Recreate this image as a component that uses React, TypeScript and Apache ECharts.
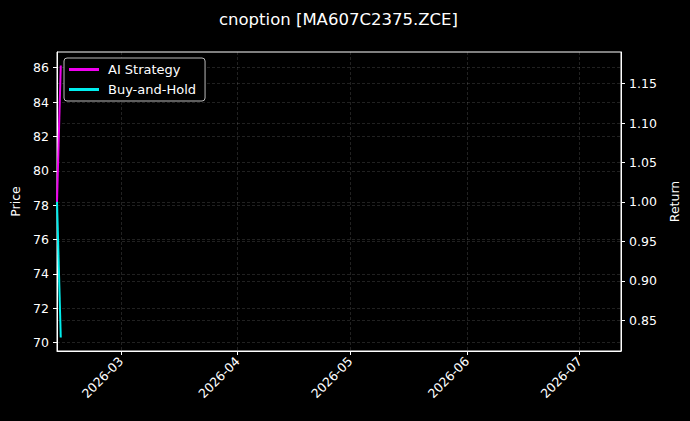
import { useEffect, useRef } from 'react'
import * as echarts from 'echarts'

const dates = ['2026-02-12', '2026-02-13']
const strategyReturn = [1.0, 1.173]
const buyHoldReturn = [1.0, 0.828]

const monthTicks = ['2026-03-01', '2026-04-01', '2026-05-01', '2026-06-01', '2026-07-01']
const priceTicks = [70, 72, 74, 76, 78, 80, 82, 84, 86]
const returnTicks = [0.85, 0.9, 0.95, 1.0, 1.05, 1.1, 1.15]

const xMin = Date.parse('2026-02-12')
const xMax = Date.parse('2026-07-12')

const toTs = (d: string) => Date.parse(d)

const font = 'DejaVu Sans, sans-serif'
const gridLine = { show: true, lineStyle: { color: 'rgba(255,255,255,0.22)', width: 0.6, type: [3, 2] as number[] } }

function App() {
  const chartRef = useRef<HTMLDivElement | null>(null)

  useEffect(() => {
    if (!chartRef.current) {
      return undefined
    }

    const chart = echarts.init(chartRef.current, undefined, { renderer: 'svg' })
    const option: echarts.EChartsOption = {
      animation: false,
      backgroundColor: '#000',
      textStyle: { fontFamily: font },
      title: {
        text: 'cnoption [MA607C2375.ZCE]',
        left: 214,
        top: 6,
        textStyle: { color: '#fff', fontSize: 16.5, fontWeight: 'normal', fontFamily: font },
      },
      grid: {
        left: 57,
        right: 69,
        top: 52,
        bottom: 70,
        show: true,
        borderColor: '#fff',
        borderWidth: 1,
        backgroundColor: 'transparent',
      },
      legend: {
        orient: 'vertical',
        left: 64,
        top: 58,
        padding: [5, 9, 5, 5],
        itemGap: 7,
        itemWidth: 30,
        itemHeight: 3,
        icon: 'rect',
        backgroundColor: '#000',
        borderColor: '#bbb',
        borderWidth: 1,
        borderRadius: 3,
        textStyle: { color: '#fff', fontSize: 13, fontFamily: font, padding: [0, 0, 0, 4] },
        data: ['AI Strategy', 'Buy-and-Hold'],
      },
      xAxis: {
        type: 'value',
        min: xMin,
        max: xMax,
        axisLine: { show: true, lineStyle: { color: '#fff' } },
        axisTick: { show: true, length: 4, lineStyle: { color: '#fff' }, customValues: monthTicks.map(toTs) },
        axisLabel: {
          color: '#fff',
          fontSize: 12.5,
          rotate: 45,
          margin: 8,
          customValues: monthTicks.map(toTs),
          formatter: (v: number) => new Date(v).toISOString().slice(0, 7),
        },
        splitLine: gridLine,
      },
      yAxis: [
        {
          type: 'value',
          name: 'Price',
          nameLocation: 'middle',
          nameRotate: 90,
          nameGap: 32,
          nameTextStyle: { color: '#fff', fontSize: 12.5, fontFamily: font },
          min: 69.52,
          max: 86.91,
          axisLine: { show: true, lineStyle: { color: '#fff' } },
          axisTick: { show: true, length: 4, lineStyle: { color: '#fff' }, customValues: priceTicks },
          axisLabel: { color: '#fff', fontSize: 12.5, margin: 8, customValues: priceTicks },
          splitLine: gridLine,
        },
        {
          type: 'value',
          name: 'Return',
          position: 'right',
          nameLocation: 'middle',
          nameRotate: 90,
          nameGap: 45,
          nameTextStyle: { color: '#fff', fontSize: 12.5, fontFamily: font },
          min: 0.811,
          max: 1.19,
          axisLine: { show: true, lineStyle: { color: '#fff' } },
          axisTick: { show: true, length: 4, lineStyle: { color: '#fff' }, customValues: returnTicks },
          axisLabel: {
            color: '#fff',
            fontSize: 12.5,
            margin: 8,
            customValues: returnTicks,
            formatter: (v: number) => v.toFixed(2),
          },
          splitLine: gridLine,
        },
      ],
      series: [
        {
          name: 'AI Strategy',
          type: 'line',
          yAxisIndex: 1,
          showSymbol: false,
          color: '#f000f0',
          lineStyle: { width: 2, color: '#f000f0' },
          data: dates.map((d, i) => [toTs(d), strategyReturn[i]]),
        },
        {
          name: 'Buy-and-Hold',
          type: 'line',
          yAxisIndex: 1,
          showSymbol: false,
          color: '#00eeee',
          lineStyle: { width: 2, color: '#00eeee' },
          data: dates.map((d, i) => [toTs(d), buyHoldReturn[i]]),
        },
      ],
    }

    chart.setOption(option)

    const handleResize = () => chart.resize()
    window.addEventListener('resize', handleResize)

    return () => {
      window.removeEventListener('resize', handleResize)
      chart.dispose()
    }
  }, [])

  return (
    <div
      ref={chartRef}
      style={{ position: 'fixed', left: 0, top: 0, width: 690, height: 421, background: '#000' }}
    />
  )
}

export default App
